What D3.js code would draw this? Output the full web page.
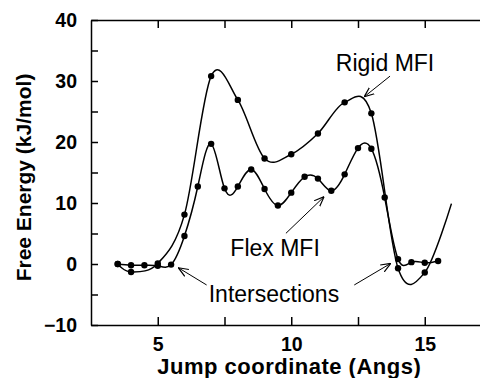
<!DOCTYPE html>
<html>
<head>
<meta charset="utf-8">
<script src="https://cdn.jsdelivr.net/npm/d3@7"></script>
<style>
  body { margin: 0; background: #fff; }
  svg { display: block; }
  text { font-family: "Liberation Sans", Arial, sans-serif; fill: #000; }
</style>
</head>
<body>
<div id="chart"></div>
<script>
// Rigid MFI free energy profile (points every 1 Angs)
const rigidX = [3.5, 4, 5, 6, 7, 8, 9, 10, 11, 12, 13, 14, 15];
const rigidY = [0, -1.3, 0.1, 8.1, 30.8, 26.9, 17.3, 18.0, 21.4, 26.5, 24.7, -0.7, -1.4];
// the fitted curve runs on past the last point
const rigidTail = [16, 9.9];

// Flex MFI free energy profile (points every 0.5 Angs)
const flexX = [3.5, 4, 4.5, 5, 5.5, 6, 6.5, 7, 7.5, 8, 8.5, 9, 9.5, 10, 10.5, 11,
               11.5, 12, 12.5, 13, 13.5, 14, 14.5, 15, 15.5];
const flexY = [0, -0.2, -0.2, -0.3, -0.1, 4.6, 12.7, 19.7, 12.4, 12.7, 15.5, 12.3, 9.6, 11.7, 14.3, 14.0,
               12.0, 14.7, 19.0, 18.9, 10.9, 0.8, 0.3, 0.2, 0.5];

const xTicks = [5, 7.5, 10, 12.5, 15];
const yTicks = [-10, -5, 0, 5, 10, 15, 20, 25, 30, 35, 40];

// labels with arrows, in data units
const notes = [
  { text: "Rigid MFI", tx: 11.67, ty: 31.6, arrows: [[13.7, 30.8, 12.73, 27.4]] },
  { text: "Flex MFI", tx: 7.72, ty: 1.36, arrows: [[9.8, 5.03, 11.23, 11.03]] },
  { text: "Intersections", tx: 6.91, ty: -6.28, arrows: [[6.83, -3.44, 5.77, -0.61], [12.36, -3.44, 13.73, 0.11]] }
];

const W = 480, H = 378;
const mLeft = 91, mTop = 20, mBottom = 325, mRight = 491.5;

const svg = d3.select("#chart").append("svg")
  .attr("width", W)
  .attr("height", H);

const x = d3.scaleLinear().domain([2.5, 17.5]).range([mLeft, mRight]);
const y = d3.scaleLinear().domain([-10, 40]).range([mBottom, mTop]);

svg.append("defs").append("marker")
  .attr("id", "head")
  .attr("viewBox", "0 0 10 10")
  .attr("refX", 10).attr("refY", 5)
  .attr("markerWidth", 10).attr("markerHeight", 10)
  .attr("markerUnits", "userSpaceOnUse")
  .attr("orient", "auto")
  .append("path")
  .attr("d", "M0,1 L10,5 L0,9")
  .attr("fill", "none")
  .attr("stroke", "#000")
  .attr("stroke-width", 1.2);

// axes, ticks point inward
const fmtY = d => d % 10 === 0 ? d3.format("d")(d) : "";
const fmtX = d => d % 5 === 0 ? d3.format("d")(d) : "";

const gy = svg.append("g")
  .attr("transform", "translate(" + mLeft + ",0)")
  .call(d3.axisLeft(y).tickValues(yTicks).tickSize(-7).tickSizeOuter(0).tickPadding(14).tickFormat(fmtY));

const gx = svg.append("g")
  .attr("transform", "translate(0," + mBottom + ")")
  .call(d3.axisBottom(x).tickValues(xTicks).tickSize(-8).tickSizeOuter(0).tickPadding(12).tickFormat(fmtX));

const gt = svg.append("g")
  .attr("transform", "translate(0," + mTop + ")")
  .call(d3.axisTop(x).tickValues(xTicks).tickSize(-8).tickSizeOuter(0).tickFormat(""));

[gx, gy, gt].forEach(g => {
  g.selectAll("path, line").attr("stroke", "#000").attr("stroke-width", 1.5);
  g.selectAll("text").style("font-size", "19.5px").style("font-weight", "bold").attr("fill", "#000");
});

svg.append("text")
  .attr("transform", "translate(31," + ((mTop + mBottom) / 2 + 5) + ") rotate(-90)")
  .attr("text-anchor", "middle")
  .style("font-size", "21px")
  .style("font-weight", "bold")
  .text("Free Energy (kJ/mol)");

svg.append("text")
  .attr("x", x(10) - 2)
  .attr("y", 374)
  .attr("text-anchor", "middle")
  .style("font-size", "22px")
  .style("font-weight", "bold")
  .style("letter-spacing", "0.5px")
  .text("Jump coordinate (Angs)");

// curves
const lineRigid = d3.line()
  .x(d => x(d[0]))
  .y(d => y(d[1]))
  .curve(d3.curveCatmullRom.alpha(0));

const lineFlex = d3.line()
  .x(d => x(d[0]))
  .y(d => y(d[1]))
  .curve(d3.curveNatural);

const rigid = rigidX.map((v, i) => [v, rigidY[i]]);
const flex = flexX.map((v, i) => [v, flexY[i]]);

svg.append("path")
  .datum(rigid.concat([rigidTail]))
  .attr("fill", "none")
  .attr("stroke", "#000")
  .attr("stroke-width", 1.5)
  .attr("d", lineRigid);

svg.append("path")
  .datum(flex)
  .attr("fill", "none")
  .attr("stroke", "#000")
  .attr("stroke-width", 1.5)
  .attr("d", lineFlex);

svg.append("g").selectAll("circle")
  .data(rigid.concat(flex))
  .enter()
  .append("circle")
  .attr("cx", d => x(d[0]))
  .attr("cy", d => y(d[1]))
  .attr("r", 3.2)
  .attr("fill", "#000");

// annotations
notes.forEach(n => {
  svg.append("text")
    .attr("x", x(n.tx))
    .attr("y", y(n.ty))
    .style("font-size", "23px")
    .text(n.text);
  n.arrows.forEach(a => {
    svg.append("line")
      .attr("x1", x(a[0])).attr("y1", y(a[1]))
      .attr("x2", x(a[2])).attr("y2", y(a[3]))
      .attr("stroke", "#000")
      .attr("stroke-width", 1)
      .attr("marker-end", "url(#head)");
  });
});
</script>
</body>
</html>
